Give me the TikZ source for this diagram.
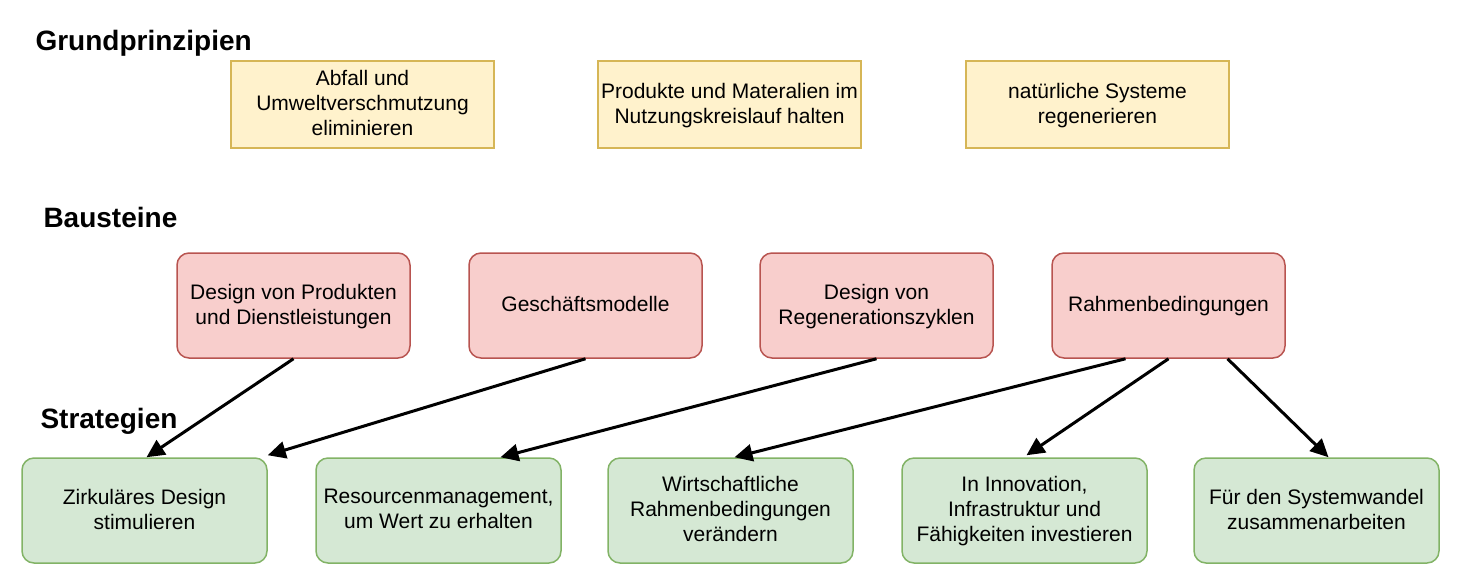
\documentclass[tikz,border=0pt]{standalone}
\usepackage{fontspec}
\setmainfont{Liberation Sans}
\usetikzlibrary{arrows.meta, positioning}
\definecolor{PrincFill}{HTML}{FFF2CC}
\definecolor{PrincLine}{HTML}{D6B656}
\definecolor{BlockFill}{HTML}{F8CECC}
\definecolor{BlockLine}{HTML}{B85450}
\definecolor{StratFill}{HTML}{D5E8D4}
\definecolor{StratLine}{HTML}{82B366}

\begin{document}
\begin{tikzpicture}[x=1pt, y=-1pt, >={Triangle[length=18pt, width=17pt]},
        heading/.style={anchor=west, font=\fontsize{28}{33}\selectfont\bfseries},
        principle/.style={rectangle, draw=PrincLine, fill=PrincFill, line width=1.5pt, align=center, minimum width=263pt, minimum height=87pt, text depth=3pt, font=\fontsize{21}{25}\selectfont},
        block/.style={rectangle, draw=BlockLine, fill=BlockFill, line width=1.5pt, rounded corners=12pt, align=center, minimum width=233pt, minimum height=105pt, text depth=3pt, font=\fontsize{21}{25}\selectfont},
        strategy/.style={rectangle, draw=StratLine, fill=StratFill, line width=1.5pt, rounded corners=12pt, align=center, minimum width=245pt, minimum height=105pt, text depth=3pt, font=\fontsize{21}{25}\selectfont},
        arrow/.style={->, line width=3pt, black}]
        \useasboundingbox (0,0) rectangle (1458,574);

        % headings
        \node[heading] (hgrund) at (32,43) {Grundprinzipien};
        \node[heading] (hbau) at (40,217) {Bausteine};
        \node[heading] (hstrat) at (37,421) {Strategien};

        % Grundprinzipien
        \node[principle] (abfall) at (362.5,104.5) {Abfall und\\Umweltverschmutzung\\eliminieren};
        \node[principle] (kreislauf) at (729.5,104.5) {Produkte und Materalien im\\Nutzungskreislauf halten};
        \node[principle] (natur) at (1097.5,104.5) {natürliche Systeme\\regenerieren};

        % Bausteine
        \node[block] (design) at (293.5,305.5) {Design von Produkten\\und Dienstleistungen};
        \node[block] (modelle) at (585.5,305.5) {Geschäftsmodelle};
        \node[block] (regen) at (876.5,305.5) {Design von\\Regenerationszyklen};
        \node[block] (rahmen) at (1168.5,305.5) {Rahmenbedingungen};

        % Strategien
        \node[strategy] (zirk) at (144.5,510.5) {Zirkuläres Design\\stimulieren};
        \node[strategy] (resource) at (438.5,510.5) {Resourcenmanagement,\\um Wert zu erhalten};
        \node[strategy] (wirtschaft) at (730.5,510.5) {Wirtschaftliche\\Rahmenbedingungen\\verändern};
        \node[strategy] (innov) at (1024.5,510.5) {In Innovation,\\Infrastruktur und\\Fähigkeiten investieren};
        \node[strategy] (system) at (1316.5,510.5) {Für den Systemwandel\\zusammenarbeiten};

        \draw[arrow] (design.south) -- ([xshift=2pt]zirk.north);
        \draw[arrow] (modelle.south) -- ([yshift=2pt]zirk.north east);
        \draw[arrow] (regen.south) -- ([xshift=62pt]resource.north);
        \draw[arrow] ([xshift=-43pt]rahmen.south) -- ([xshift=4pt]wirtschaft.north);
        \draw[arrow] (rahmen.south) -- ([xshift=2pt, yshift=2pt]innov.north);
        \draw[arrow] ([xshift=59pt]rahmen.south) -- ([xshift=12pt]system.north);
    \end{tikzpicture}
\end{document}
